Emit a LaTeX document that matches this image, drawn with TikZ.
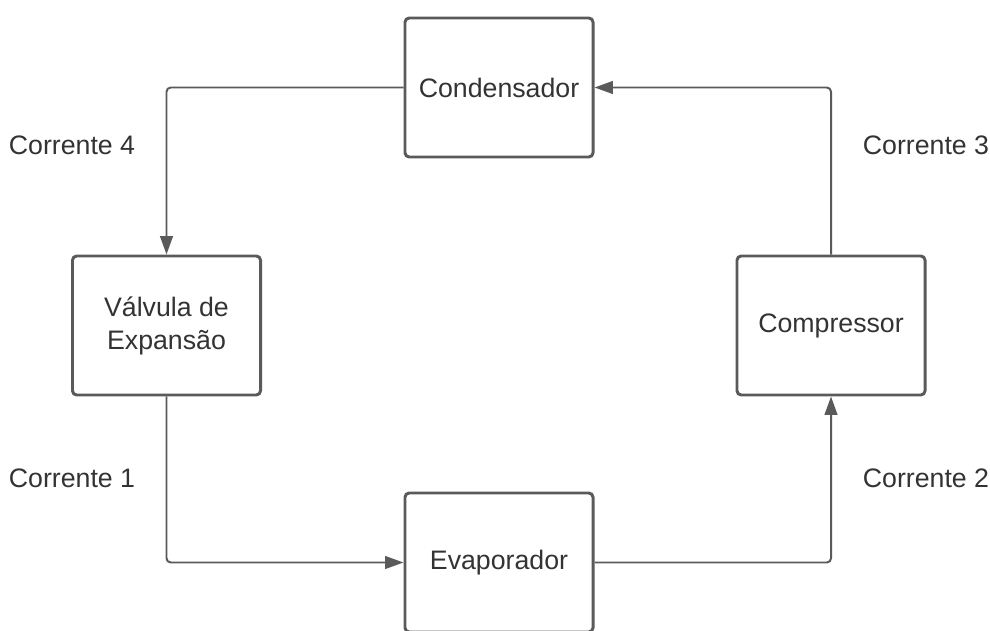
\documentclass[tikz,border=0pt]{standalone}
\usepackage{fontspec}
\setmainfont{Liberation Sans}
\usetikzlibrary{arrows.meta,positioning}
\definecolor{linegray}{HTML}{5A5A5A}
\definecolor{textgray}{HTML}{333333}

\begin{document}
\begin{tikzpicture}[
        x=0.025cm, y=-0.025cm,
        unit/.style={rectangle, rounded corners=3pt, draw=linegray, line width=2.1pt,
          minimum width=4.7cm, minimum height=3.475cm, inner sep=0pt, align=center,
          text=textgray, font=\fontsize{19}{23.5}\selectfont},
        stream/.style={text=textgray, font=\fontsize{19}{23.5}\selectfont},
        flow/.style={draw=linegray, line width=1.4pt, rounded corners=3pt,
          -{Triangle[length=13pt, width=9pt]}}
      ]
        \useasboundingbox (0,0) rectangle (990,630);

        \node (cond) [unit] at (499,87.5) {Condensador};
        \node (valv) [unit] at (166.5,325.5) {Válvula de\\Expansão};
        \node (comp) [unit] at (831,325.5) {Compressor};
        \node (evap) [unit] at (499,562.5) {Evaporador};

        \node (c4) [stream] at (72,145) {Corrente 4};
        \node (c3) [stream] at (926,145) {Corrente 3};
        \node (c1) [stream] at (72,478) {Corrente 1};
        \node (c2) [stream] at (926,478) {Corrente 2};

        \draw[flow] (cond.west) -| (valv.north);
        \draw[flow] (valv.south) |- (evap.west);
        \draw[flow] (evap.east) -| (comp.south);
        \draw[flow] (comp.north) |- (cond.east);

      \end{tikzpicture}
\end{document}
